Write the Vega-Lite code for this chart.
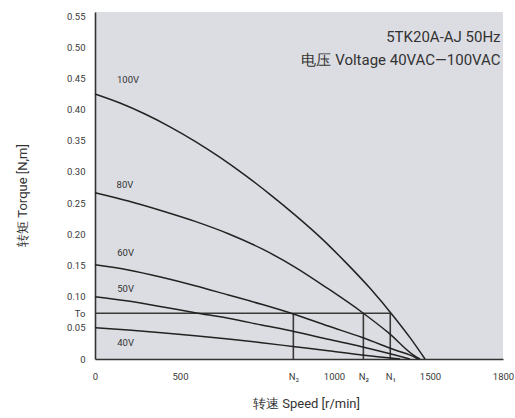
{
  "$schema": "https://vega.github.io/schema/vega-lite/v6.json",
  "width": 408,
  "height": 347,
  "autosize": {"type": "none"},
  "padding": {"left": 95, "top": 12, "right": 12, "bottom": 59},
  "background": "#ffffff",
  "config": {
    "view": {"fill": "#dcdde2", "stroke": null},
    "font": "Roboto, sans-serif",
    "axis": {"grid": false, "ticks": false, "domainColor": "#333333", "domainWidth": 1.6, "labelColor": "#3a3a3a", "labelFontSize": 9.5, "titleColor": "#333333", "titleFontSize": 13, "titleFontWeight": "normal"}
  },
  "datasets": {
    "curves": [
      {"v": "100V", "speed": 0, "torque": 0.425},
      {"v": "100V", "speed": 147, "torque": 0.4105},
      {"v": "100V", "speed": 294, "torque": 0.3929},
      {"v": "100V", "speed": 441, "torque": 0.3724},
      {"v": "100V", "speed": 549, "torque": 0.3491},
      {"v": "100V", "speed": 630, "torque": 0.3233},
      {"v": "100V", "speed": 711, "torque": 0.2949},
      {"v": "100V", "speed": 792, "torque": 0.2641},
      {"v": "100V", "speed": 873, "torque": 0.2312},
      {"v": "100V", "speed": 955, "torque": 0.1955},
      {"v": "100V", "speed": 1057, "torque": 0.1562},
      {"v": "100V", "speed": 1188, "torque": 0.1134},
      {"v": "100V", "speed": 1318, "torque": 0.0654},
      {"v": "100V", "speed": 1396, "torque": 0.0342},
      {"v": "100V", "speed": 1474, "torque": 0},
      {"v": "80V", "speed": 0, "torque": 0.2667},
      {"v": "80V", "speed": 196, "torque": 0.2534},
      {"v": "80V", "speed": 392, "torque": 0.2378},
      {"v": "80V", "speed": 549, "torque": 0.2207},
      {"v": "80V", "speed": 657, "torque": 0.2009},
      {"v": "80V", "speed": 765, "torque": 0.1769},
      {"v": "80V", "speed": 873, "torque": 0.1475},
      {"v": "80V", "speed": 981, "torque": 0.1127},
      {"v": "80V", "speed": 1144, "torque": 0.0754},
      {"v": "80V", "speed": 1283, "torque": 0.0422},
      {"v": "80V", "speed": 1422, "torque": 0.0045},
      {"v": "80V", "speed": 1448, "torque": 0},
      {"v": "60V", "speed": 0, "torque": 0.151},
      {"v": "60V", "speed": 196, "torque": 0.1427},
      {"v": "60V", "speed": 392, "torque": 0.131},
      {"v": "60V", "speed": 549, "torque": 0.1175},
      {"v": "60V", "speed": 657, "torque": 0.1026},
      {"v": "60V", "speed": 765, "torque": 0.0877},
      {"v": "60V", "speed": 868, "torque": 0.0722},
      {"v": "60V", "speed": 981, "torque": 0.0529},
      {"v": "60V", "speed": 1144, "torque": 0.0348},
      {"v": "60V", "speed": 1318, "torque": 0.0144},
      {"v": "60V", "speed": 1422, "torque": 0.0027},
      {"v": "60V", "speed": 1438, "torque": 0},
      {"v": "50V", "speed": 0, "torque": 0.0999},
      {"v": "50V", "speed": 196, "torque": 0.093},
      {"v": "50V", "speed": 392, "torque": 0.0839},
      {"v": "50V", "speed": 549, "torque": 0.0742},
      {"v": "50V", "speed": 657, "torque": 0.0653},
      {"v": "50V", "speed": 765, "torque": 0.0545},
      {"v": "50V", "speed": 873, "torque": 0.0438},
      {"v": "50V", "speed": 981, "torque": 0.0316},
      {"v": "50V", "speed": 1144, "torque": 0.0197},
      {"v": "50V", "speed": 1318, "torque": 0.0064},
      {"v": "50V", "speed": 1396, "torque": 0},
      {"v": "40V", "speed": 0, "torque": 0.0502},
      {"v": "40V", "speed": 196, "torque": 0.0465},
      {"v": "40V", "speed": 392, "torque": 0.0422},
      {"v": "40V", "speed": 549, "torque": 0.0374},
      {"v": "40V", "speed": 657, "torque": 0.0321},
      {"v": "40V", "speed": 765, "torque": 0.0261},
      {"v": "40V", "speed": 873, "torque": 0.0197},
      {"v": "40V", "speed": 981, "torque": 0.0133},
      {"v": "40V", "speed": 1144, "torque": 0.0064},
      {"v": "40V", "speed": 1344, "torque": 0}
    ],
    "nlines": [
      {"name": "N3", "speed": 868, "torque": 0, "torque2": 0.0733},
      {"name": "N2", "speed": 1153, "torque": 0, "torque2": 0.0733},
      {"name": "N1", "speed": 1293, "torque": 0, "torque2": 0.0733}
    ],
    "toline": [{"speed": 0, "speed2": 1293, "torque": 0.0733}],
    "vlabels": [
      {"text": "100V", "speed": 194, "torque": 0.447},
      {"text": "80V", "speed": 176, "torque": 0.279},
      {"text": "60V", "speed": 180, "torque": 0.1695},
      {"text": "50V", "speed": 180, "torque": 0.1118},
      {"text": "40V", "speed": 180, "torque": 0.025}
    ],
    "notes": [
      {"text": "5TK20A-AJ 50Hz", "speed": 1790, "torque": 0.516},
      {"text": "电压  Voltage 40VAC—100VAC", "speed": 1790, "torque": 0.4795}
    ]
  },
  "encoding": {
    "x": {
      "field": "speed", "type": "quantitative",
      "scale": {"domain": [0, 500, 1000, 1500, 1800], "range": [0, 85, 239, 335, 408], "nice": false, "zero": false},
      "axis": {
        "values": [0, 500, 868, 1000, 1153, 1293, 1500, 1800],
        "labelExpr": "datum.value == 868 ? 'N₃' : datum.value == 1153 ? 'N₂' : datum.value == 1293 ? 'N₁' : datum.label",
        "format": "d",
        "labelPadding": 12,
        "labelFlush": false,
        "labelOverlap": false,
        "title": "转速  Speed [r/min]",
        "titlePadding": 17,
        "titleX": 211
      }
    },
    "y": {
      "field": "torque", "type": "quantitative",
      "scale": {"domain": [0, 0.5565], "nice": false},
      "axis": {
        "values": [0, 0.05, 0.0733, 0.1, 0.15, 0.2, 0.25, 0.3, 0.35, 0.4, 0.45, 0.5, 0.55],
        "labelExpr": "datum.value == 0 ? '0' : abs(datum.value - 0.0733) < 0.001 ? 'To' : format(datum.value, '.2f')",
        "labelPadding": 10,
        "labelOverlap": false,
        "labelFlush": false,
        "title": "转矩  Torque [N,m]",
        "titlePadding": 37,
        "titleY": 183
      }
    }
  },
  "layer": [
    {
      "data": {"name": "nlines"},
      "mark": {"type": "rule", "color": "#3a3a3a", "strokeWidth": 1.6},
      "encoding": {"y2": {"field": "torque2"}}
    },
    {
      "data": {"name": "toline"},
      "mark": {"type": "rule", "color": "#3a3a3a", "strokeWidth": 1.6},
      "encoding": {"x2": {"field": "speed2"}}
    },
    {
      "data": {"name": "curves"},
      "mark": {"type": "line", "color": "#222222", "strokeWidth": 1.5, "interpolate": "monotone"},
      "encoding": {"detail": {"field": "v"}}
    },
    {
      "data": {"name": "vlabels"},
      "mark": {"type": "text", "fontSize": 9.5, "color": "#333333", "align": "center", "baseline": "middle"},
      "encoding": {"text": {"field": "text"}}
    },
    {
      "data": {"name": "notes"},
      "mark": {"type": "text", "fontSize": 15, "color": "#333333", "align": "right", "baseline": "middle"},
      "encoding": {"text": {"field": "text"}}
    }
  ]
}
